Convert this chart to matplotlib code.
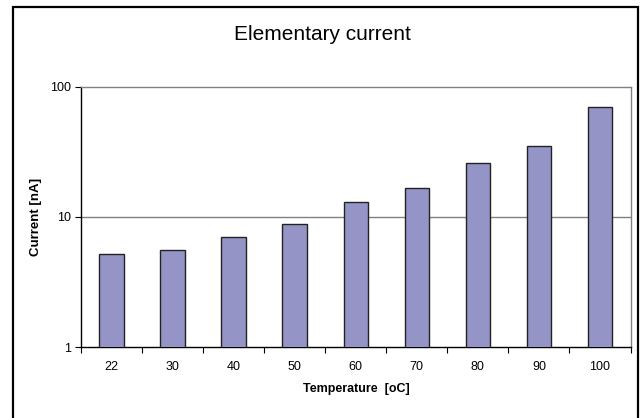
import matplotlib
matplotlib.use("Agg")
import matplotlib.pyplot as plt
from matplotlib.patches import Rectangle
from matplotlib.ticker import FixedLocator, NullLocator, FixedFormatter

plt.rcParams['font.family'] = ['Liberation Sans', 'DejaVu Sans']

temperatures = ["22", "30", "40", "50", "60", "70", "80", "90", "100"]
current_na = [5.2, 5.6, 7.0, 8.8, 13.0, 16.8, 25.9, 35.3, 70.5]
y_ticks = [1, 10, 100]

W, H = 640, 418
fig = plt.figure(figsize=(W / 100, H / 100), dpi=100)

# outer chart frame (runs off the bottom edge)
fig.patches.append(Rectangle((13 / W, -0.05), (638 - 13) / W, 1.05 - 7 / H,
                             transform=fig.transFigure, fill=False,
                             edgecolor='black', linewidth=1.6))

ax = fig.add_axes([81 / W, (H - 347) / H, (630.5 - 81) / W, (347 - 87) / H])
x = range(len(temperatures))
ax.bar(x, current_na, width=0.4, color='#9494C6', edgecolor='#222222',
       linewidth=1.0, zorder=3)

ax.set_yscale('log')
ax.set_ylim(1, 100)
ax.set_xlim(-0.5, len(temperatures) - 0.5)
ax.yaxis.set_major_locator(FixedLocator(y_ticks))
ax.yaxis.set_major_formatter(FixedFormatter([str(v) for v in y_ticks]))
ax.yaxis.set_minor_locator(NullLocator())

ax.set_xticks(list(x))
ax.set_xticklabels(temperatures)
ax.set_xticks([i - 0.5 for i in range(len(temperatures) + 1)], minor=True)
ax.tick_params(axis='x', which='major', length=0, pad=10, labelsize=9)
ax.tick_params(axis='x', which='minor', length=4, width=0.8, direction='out')
ax.tick_params(axis='y', length=4, width=0.8, direction='out', labelsize=9, pad=3)

ax.axhline(10, color='#808080', linewidth=1.0, zorder=1)
for side in ('top', 'right'):
    ax.spines[side].set_color('#808080')
    ax.spines[side].set_linewidth(1.0)
for side in ('left', 'bottom'):
    ax.spines[side].set_color('black')
    ax.spines[side].set_linewidth(1.0)

fig.text(322 / W, 1 - 34 / H, "Elementary current", ha='center', va='center',
         fontsize=15)
fig.text(36 / W, 1 - 217 / H, "Current [nA]", rotation=90, ha='center',
         va='center', fontsize=9.5, fontweight='bold')
fig.text(356 / W, 1 - 389 / H, "Temperature  [oC]", ha='center', va='center',
         fontsize=9, fontweight='bold')

fig.savefig("out.png", dpi=100)
